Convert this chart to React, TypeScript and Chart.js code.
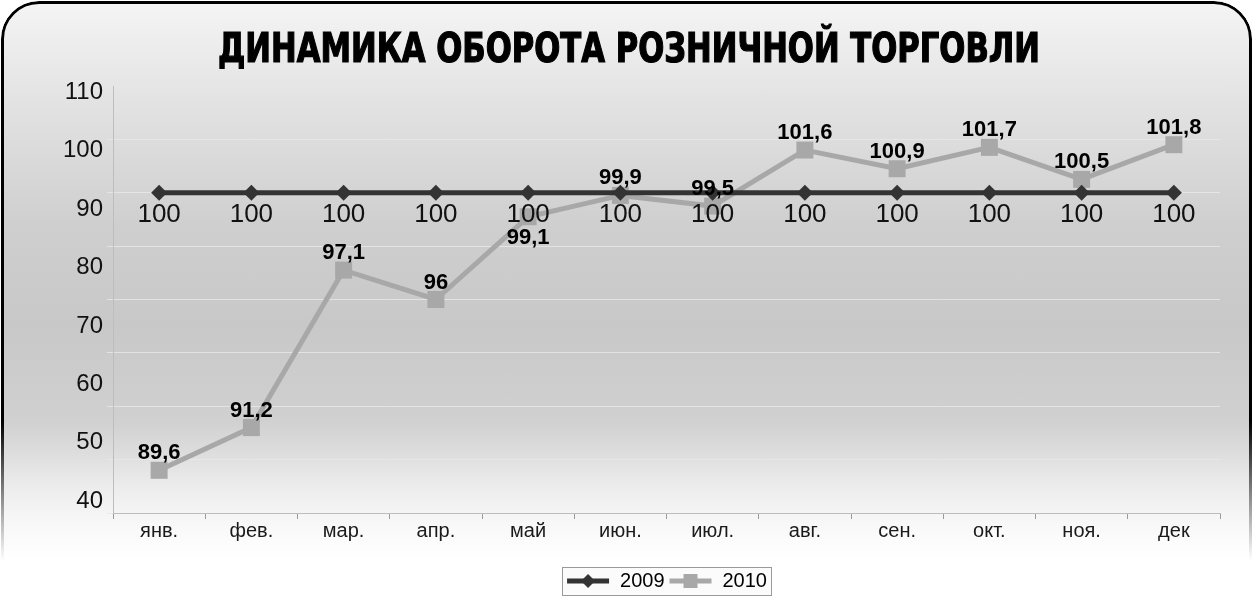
import React, { useEffect, useRef } from "react";
import { Chart, registerables } from "chart.js";

Chart.register(...registerables);

const chartTitle = "ДИНАМИКА ОБОРОТА РОЗНИЧНОЙ ТОРГОВЛИ";
const months = ["янв.", "фев.", "мар.", "апр.", "май", "июн.", "июл.", "авг.", "сен.", "окт.", "ноя.", "дек"];
const series2009 = [100, 100, 100, 100, 100, 100, 100, 100, 100, 100, 100, 100];
const series2010 = [89.6, 91.2, 97.1, 96, 99.1, 99.9, 99.5, 101.6, 100.9, 101.7, 100.5, 101.8];
const labelSide2010 = ["top", "top", "top", "top", "bottom", "top", "top", "top", "top", "top", "top", "top"];
const yTickLabels = [40, 50, 60, 70, 80, 90, 100, 110];

const FONT = '"Liberation Sans", Arial, sans-serif';
const DARK = "#333333";
const GREY = "#a8a8a8";

function legendSample(color: string, kind: "diamond" | "square") {
  const c = document.createElement("canvas");
  c.width = 44;
  c.height = 20;
  const g = c.getContext("2d")!;
  g.strokeStyle = color;
  g.lineWidth = 5;
  g.beginPath();
  g.moveTo(1, 10);
  g.lineTo(43, 10);
  g.stroke();
  g.fillStyle = color;
  if (kind === "diamond") {
    g.beginPath();
    g.moveTo(22, 3);
    g.lineTo(29, 10);
    g.lineTo(22, 17);
    g.lineTo(15, 10);
    g.closePath();
    g.fill();
  } else {
    g.fillRect(15, 3, 14, 14);
  }
  return c;
}

export default function App() {
  const ref = useRef<HTMLCanvasElement>(null);

  useEffect(() => {
    document.body.style.margin = "0";
    const canvas = ref.current!;
    const samples = [legendSample(DARK, "diamond"), legendSample(GREY, "square")];

    const titlePlugin = {
      id: "titlePlugin",
      afterDraw(chart: any) {
        const ctx = chart.ctx;
        ctx.save();
        ctx.font = 'bold 40px "DejaVu Sans Condensed", "DejaVu Sans", sans-serif';
        const w = ctx.measureText(chartTitle).width;
        const s = 822 / w;
        ctx.translate(629, 62);
        ctx.scale(s, 1);
        ctx.textAlign = "center";
        ctx.textBaseline = "alphabetic";
        ctx.fillStyle = "#000";
        ctx.strokeStyle = "#000";
        ctx.lineWidth = 1.2;
        ctx.fillText(chartTitle, 0, 0);
        ctx.strokeText(chartTitle, 0, 0);
        ctx.restore();
      },
    };

    const legendBox = {
      id: "legendBox",
      beforeDraw(chart: any) {
        const hb = chart.legend && chart.legend.legendHitBoxes;
        if (!hb || !hb.length) return;
        let l = Infinity, r = -Infinity, t = Infinity, b = -Infinity;
        hb.forEach((h: any) => {
          l = Math.min(l, h.left);
          r = Math.max(r, h.left + h.width);
          t = Math.min(t, h.top);
          b = Math.max(b, h.top + h.height);
        });
        const ctx = chart.ctx;
        ctx.save();
        ctx.fillStyle = "#fbfbfb";
        ctx.strokeStyle = "#9a9a9a";
        ctx.lineWidth = 1;
        ctx.fillRect(l - 4, t - 4, r - l + 8, b - t + 8);
        ctx.strokeRect(Math.round(l - 4) + 0.5, Math.round(t - 4) + 0.5, Math.round(r - l + 8), Math.round(b - t + 8));
        ctx.restore();
      },
    };

    const dataLabels = {
      id: "dataLabels",
      afterDatasetsDraw(chart: any) {
        const ctx = chart.ctx;
        ctx.save();
        ctx.textAlign = "center";
        ctx.textBaseline = "middle";
        ctx.fillStyle = "#111";
        const m0 = chart.getDatasetMeta(0);
        ctx.font = `26px ${FONT}`;
        m0.data.forEach((p: any, i: number) => {
          ctx.fillText(String(series2009[i]).replace(".", ","), p.x, p.y + 22);
        });
        const m1 = chart.getDatasetMeta(1);
        ctx.font = `bold 22px ${FONT}`;
        ctx.fillStyle = "#000";
        m1.data.forEach((p: any, i: number) => {
          const dy = labelSide2010[i] === "bottom" ? 21 : -17;
          ctx.fillText(String(series2010[i]).replace(".", ","), p.x, p.y + dy);
        });
        ctx.restore();
      },
    };

    const chart = new Chart(canvas, {
      type: "line",
      data: {
        labels: months,
        datasets: [
          {
            label: "2009",
            data: series2009,
            borderColor: DARK,
            backgroundColor: DARK,
            pointBackgroundColor: DARK,
            pointBorderColor: DARK,
            borderWidth: 5,
            pointStyle: "rectRot",
            pointRadius: 8,
            pointBorderWidth: 0,
            order: 0,
          },
          {
            label: "2010",
            data: series2010,
            borderColor: GREY,
            backgroundColor: GREY,
            pointBackgroundColor: GREY,
            pointBorderColor: GREY,
            borderWidth: 5,
            pointStyle: "rect",
            pointRadius: 12,
            pointBorderWidth: 0,
            order: 1,
          },
        ],
      },
      options: {
        responsive: false,
        animation: false,
        layout: { padding: { top: 86, right: 37, left: 0, bottom: 9 } },
        plugins: {
          tooltip: { enabled: false },
          title: { display: false },
          legend: {
            position: "bottom",
            fullSize: false,
            labels: {
              usePointStyle: true,
              pointStyleWidth: 44,
              padding: 4,
              color: "#000",
              font: { family: FONT, size: 20 },
              generateLabels: (c: any) => {
                const items = (Chart.defaults.plugins.legend.labels as any).generateLabels(c);
                items.forEach((it: any) => {
                  it.pointStyle = samples[it.datasetIndex];
                  it.lineWidth = 0;
                });
                return items;
              },
            },
          },
        },
        scales: {
          x: {
            offset: true,
            grid: { drawOnChartArea: false, color: "#9a9a9a", tickLength: 6, offset: true },
            border: { color: "#bdbdbd" },
            ticks: { color: "#1a1a1a", padding: 0, font: { family: FONT, size: 20 } },
            afterFit: (s: any) => {
              s.height = 54;
            },
          },
          y: {
            position: "left",
            weight: 0,
            min: 88,
            max: 104,
            ticks: { stepSize: 2, display: false },
            grid: { color: "rgba(232,232,232,0.85)", tickLength: 6 },
            border: { color: "#bdbdbd" },
            afterFit: (s: any) => {
              s.width = 8;
            },
          },
          y2: {
            position: "left",
            weight: 1,
            min: 38,
            max: 111.03,
            grid: { display: false, drawTicks: false },
            border: { display: false },
            afterBuildTicks: (s: any) => {
              s.ticks = yTickLabels.map((v) => ({ value: v }));
            },
            ticks: { color: "#111", padding: 2, font: { family: FONT, size: 24 } },
            afterFit: (s: any) => {
              s.width = 105;
            },
          },
        },
      } as any,
      plugins: [legendBox, dataLabels, titlePlugin],
    });
    return () => chart.destroy();
  }, []);

  return (
    <div style={{ position: "relative", width: 1257, height: 610, overflow: "hidden", background: "#ffffff" }}>
      <div
        style={{
          position: "absolute",
          left: 1,
          top: 1,
          width: 1251,
          height: 760,
          boxSizing: "border-box",
          border: "3px solid #000",
          borderRadius: 38,
          background:
            "linear-gradient(to bottom, #f4f4f4 0px, #e4e4e4 90px, #cfcfcf 220px, #c8c8c8 320px, #d3d3d3 450px, #e6e6e6 530px, #f6f6f6 590px, #ffffff 610px)",
          WebkitMaskImage: "linear-gradient(to bottom, #000 0px, #000 420px, rgba(0,0,0,0) 560px)",
          maskImage: "linear-gradient(to bottom, #000 0px, #000 420px, rgba(0,0,0,0) 560px)",
        }}
      />
      <canvas ref={ref} width={1257} height={610} style={{ position: "absolute", left: 0, top: 0 }} />
    </div>
  );
}
